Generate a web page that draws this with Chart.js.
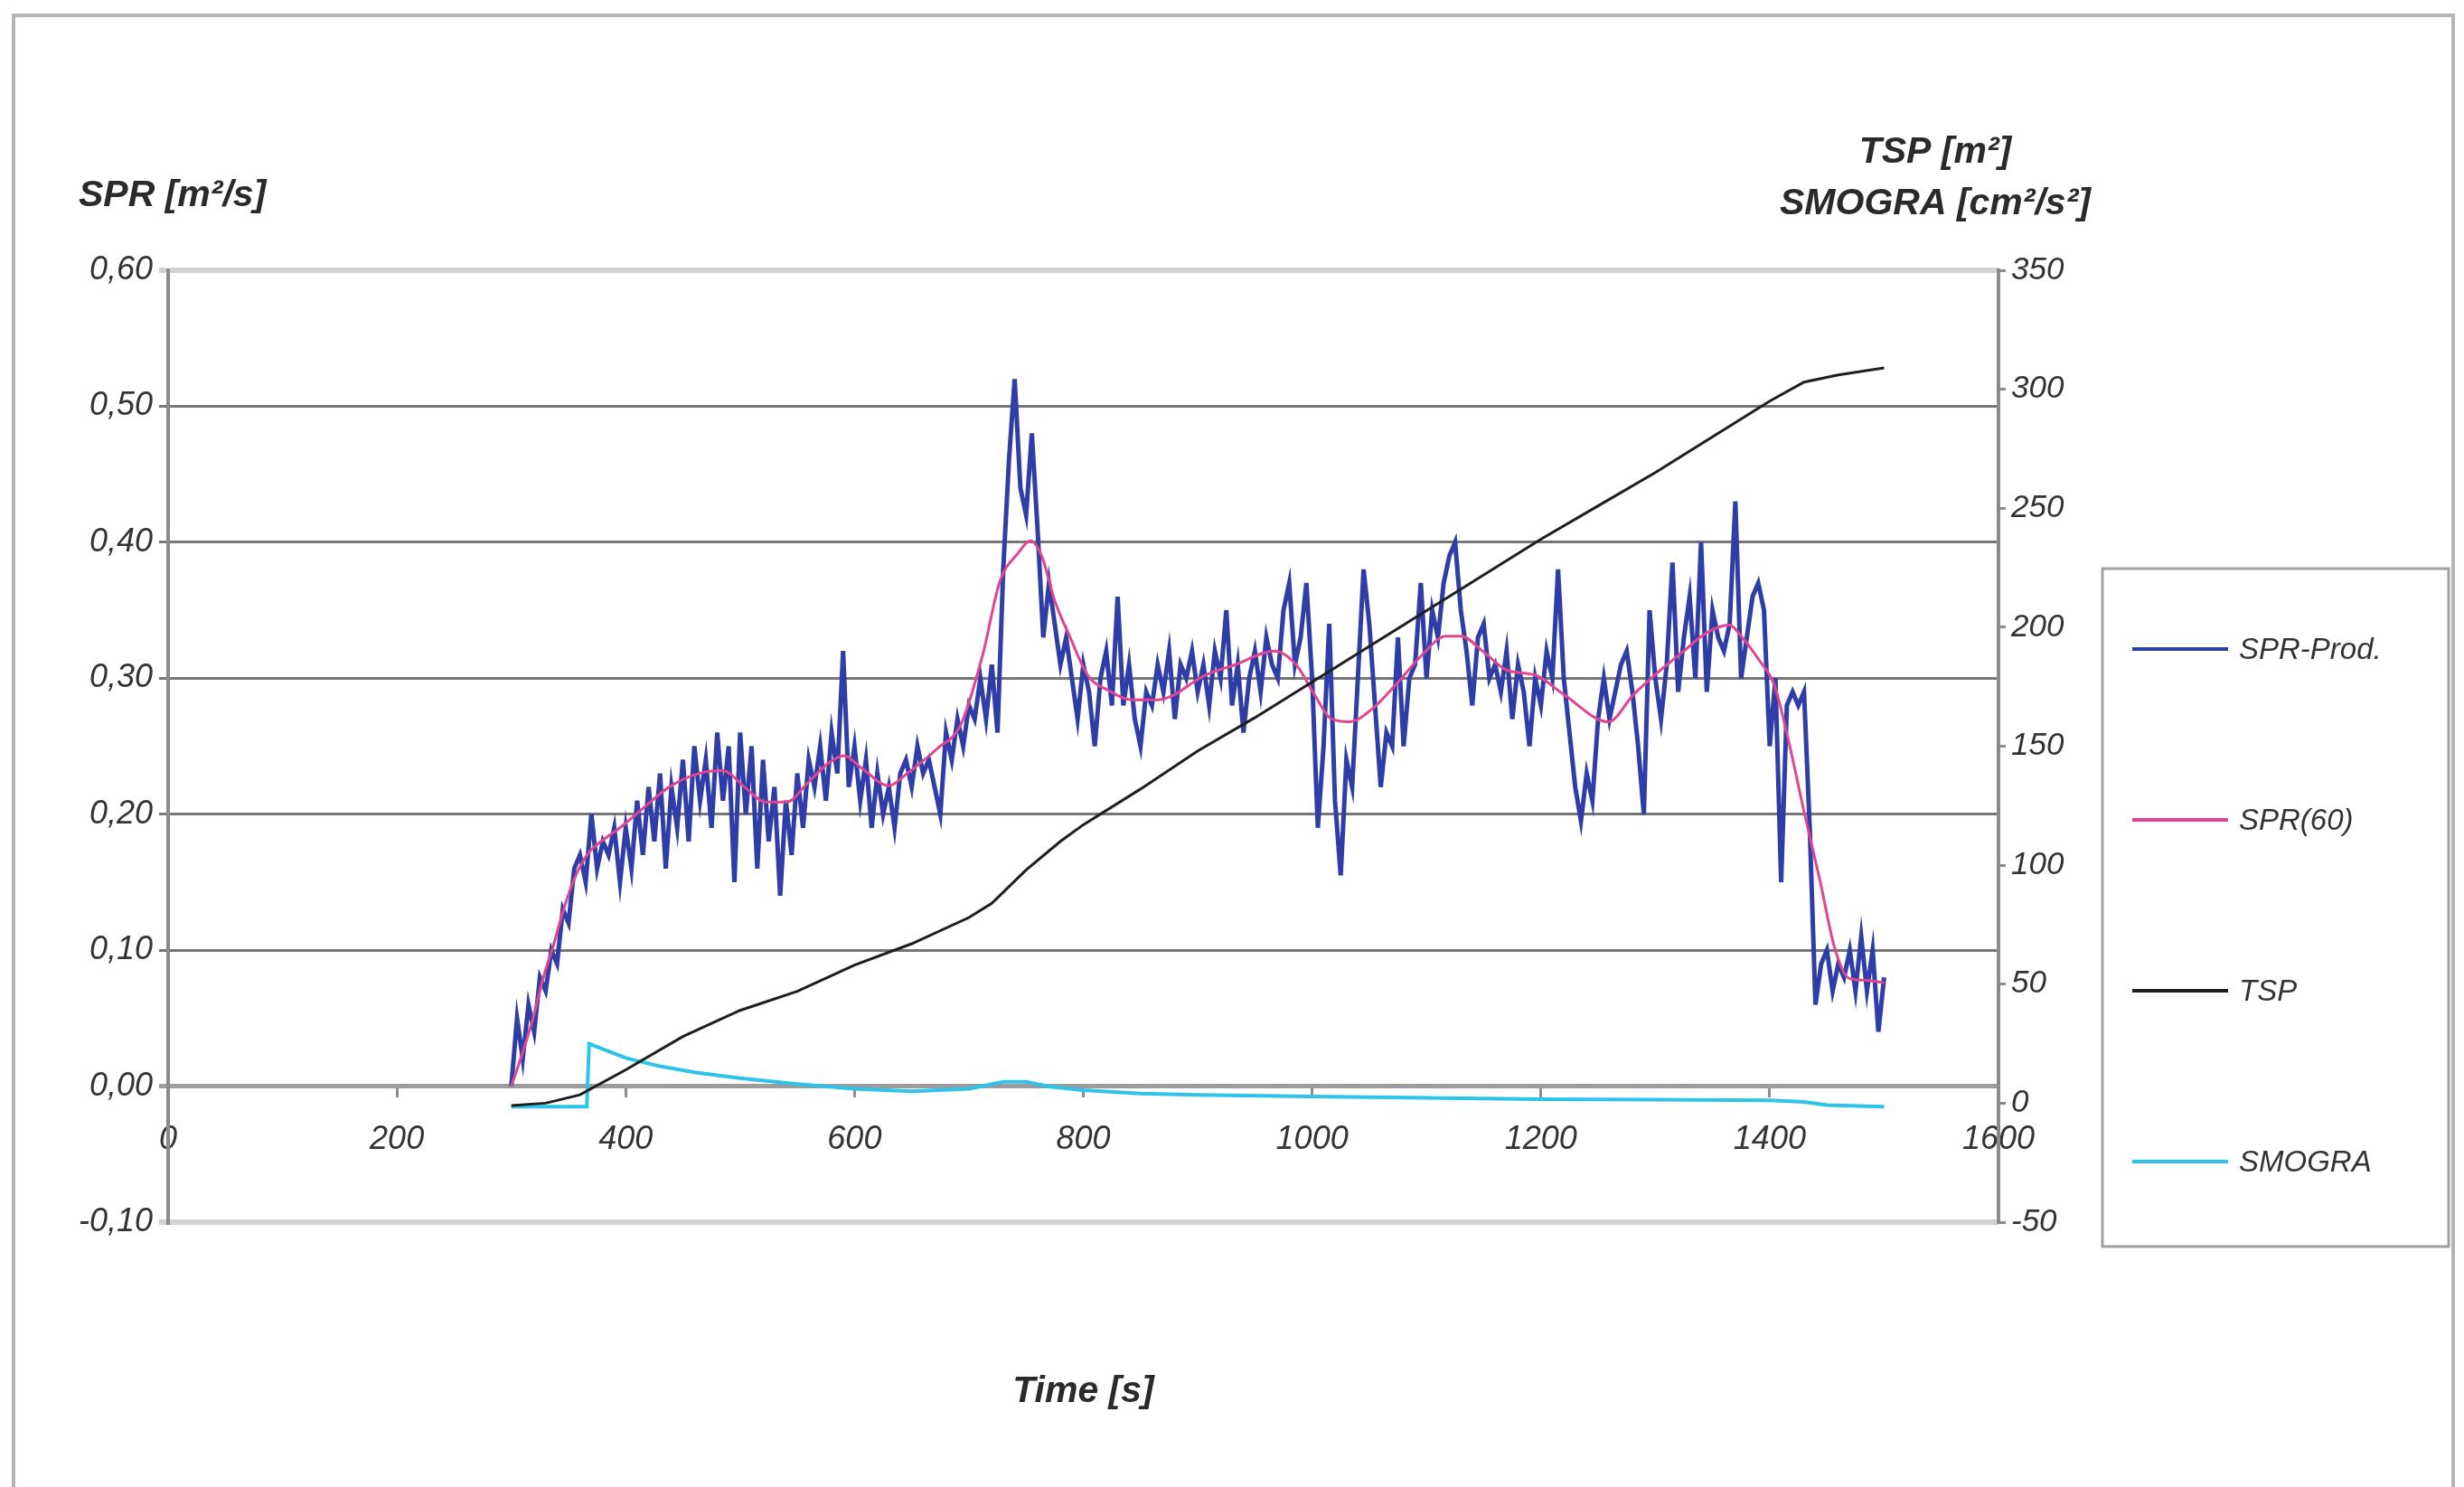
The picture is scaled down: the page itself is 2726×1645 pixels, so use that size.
<!DOCTYPE html>
<html>
<head>
<meta charset="utf-8">
<title>SPR / TSP / SMOGRA</title>
<script src="https://cdn.jsdelivr.net/npm/chart.js@4.4.1/dist/chart.umd.min.js"></script>
<style>
  html, body { margin: 0; padding: 0; background: #fff; }
  #wrap { width: 2726px; height: 1645px; position: relative; }
</style>
</head>
<body>
<div id="wrap"><canvas id="myChart"></canvas></div>
<script>
/**
 * Data
 */
// SPR-Prod., one reading every 5 s
var sprTime = [
  300,305,310,315,320,325,330,335,340,345,350,355,360,365,370,375,380,385,390,395,
  400,405,410,415,420,425,430,435,440,445,450,455,460,465,470,475,480,485,490,495,
  500,505,510,515,520,525,530,535,540,545,550,555,560,565,570,575,580,585,590,595,
  600,605,610,615,620,625,630,635,640,645,650,655,660,665,670,675,680,685,690,695,
  700,705,710,715,720,725,730,735,740,745,750,755,760,765,770,775,780,785,790,795,
  800,805,810,815,820,825,830,835,840,845,850,855,860,865,870,875,880,885,890,895,
  900,905,910,915,920,925,930,935,940,945,950,955,960,965,970,975,980,985,990,995,
  1000,1005,1010,1015,1020,1025,1030,1035,1040,1045,1050,1055,1060,1065,1070,1075,1080,1085,1090,1095,
  1100,1105,1110,1115,1120,1125,1130,1135,1140,1145,1150,1155,1160,1165,1170,1175,1180,1185,1190,1195,
  1200,1205,1210,1215,1220,1225,1230,1235,1240,1245,1250,1255,1260,1265,1270,1275,1280,1285,1290,1295,
  1300,1305,1310,1315,1320,1325,1330,1335,1340,1345,1350,1355,1360,1365,1370,1375,1380,1385,1390,1395,
  1400,1405,1410,1415,1420,1425,1430,1435,1440,1445,1450,1455,1460,1465,1470,1475,1480,1485,1490,1495,
  1500
];
var sprProd = [
  0.00,0.05,0.02,0.06,0.04,0.08,0.07,0.10,0.09,0.13,0.12,0.16,0.17,0.15,0.20,0.16,0.18,0.17,0.19,0.15,
  0.19,0.16,0.21,0.17,0.22,0.18,0.23,0.16,0.22,0.19,0.24,0.18,0.25,0.21,0.24,0.19,0.26,0.21,0.25,0.15,
  0.26,0.20,0.25,0.16,0.24,0.18,0.22,0.14,0.21,0.17,0.23,0.19,0.24,0.22,0.25,0.21,0.26,0.23,0.32,0.22,
  0.25,0.21,0.24,0.19,0.23,0.20,0.22,0.19,0.23,0.24,0.22,0.25,0.23,0.24,0.22,0.20,0.26,0.24,0.27,0.25,
  0.28,0.27,0.30,0.27,0.31,0.26,0.38,0.46,0.52,0.44,0.42,0.48,0.41,0.33,0.37,0.34,0.31,0.33,0.30,0.27,
  0.31,0.29,0.25,0.30,0.32,0.28,0.36,0.28,0.31,0.27,0.25,0.29,0.28,0.31,0.29,0.32,0.27,0.31,0.30,0.32,
  0.29,0.31,0.28,0.32,0.30,0.35,0.28,0.31,0.26,0.30,0.32,0.29,0.33,0.31,0.30,0.35,0.37,0.31,0.33,0.37,
  0.30,0.19,0.25,0.34,0.21,0.155,0.24,0.22,0.30,0.38,0.34,0.28,0.22,0.26,0.25,0.33,0.25,0.30,0.31,0.37,
  0.30,0.35,0.33,0.37,0.39,0.40,0.35,0.32,0.28,0.33,0.34,0.30,0.31,0.29,0.32,0.27,0.31,0.29,0.25,0.30,
  0.28,0.32,0.30,0.38,0.30,0.26,0.22,0.195,0.23,0.21,0.27,0.30,0.27,0.29,0.31,0.32,0.29,0.25,0.20,0.35,
  0.30,0.27,0.31,0.385,0.29,0.33,0.36,0.30,0.40,0.29,0.35,0.33,0.32,0.34,0.43,0.30,0.33,0.36,0.37,0.35,
  0.25,0.30,0.15,0.28,0.29,0.28,0.29,0.19,0.06,0.09,0.10,0.07,0.09,0.08,0.10,0.07,0.11,0.07,0.10,0.04,
  0.08
];

// SPR(60), running mean
var sprAvgTime = [300,310,319,328,337,345,353,361,369,385,398,412,438,464,485,504,522,541,559,578,
  591,606,630,646,672,693,712,727,743,754,764,775,788,804,822,843,864,880,896,906,
  933,967,986,1002,1017,1033,1052,1073,1096,1117,1130,1149,1170,1196,1220,1259,1281,1299,1325,1344,
  1365,1375,1391,1404,1417,1430,1444,1457,1470,1483,1500];
var sprAvg = [0,0.025,0.05,0.08,0.104,0.128,0.148,0.163,0.173,0.184,0.192,0.202,0.22,0.23,0.232,0.22,0.209,0.209,0.223,0.238,
  0.243,0.234,0.221,0.23,0.248,0.266,0.317,0.371,0.392,0.401,0.389,0.357,0.331,0.302,0.291,0.284,0.284,0.288,0.297,0.302,
  0.31,0.32,0.31,0.288,0.27,0.268,0.277,0.295,0.317,0.331,0.331,0.32,0.306,0.302,0.288,0.268,0.288,0.302,0.32,0.333,
  0.339,0.331,0.313,0.295,0.252,0.202,0.151,0.101,0.079,0.078,0.076];

// TSP [m2], right axis
var tspTime = [300,330,360,400,450,500,550,600,650,700,720,750,780,800,850,900,950,1000,1050,1100,1150,1200,1250,1300,1350,1400,1430,1460,1500];
var tsp = [-1,0,3.5,14,28,39,47,58,67,78,84,98,110,117,132,148,162,177,192,207,222,237,251,265,280,295,303,306,309];

// SMOGRA [cm2/s2], right axis
var smoTime = [300,366,368,400,430,460,500,550,600,650,700,730,750,770,800,850,900,1000,1100,1200,1300,1400,1430,1450,1500];
var smogra = [-1.5,-1.5,25,19,15.5,13,10.5,8,6,5,6,9,9,7,5.5,4,3.5,2.8,2.2,1.7,1.5,1.2,0.5,-0.8,-1.5];

// axis ranges and labels
var xTicks = { min: 0, max: 1600, step: 200 };
var leftTicks = { min: -0.1, max: 0.6, step: 0.1 };
var rightTicks = { min: -50, max: 350, step: 50 };
var seriesNames = ['SPR-Prod.', 'SPR(60)', 'TSP', 'SMOGRA'];
var titleLeft = 'SPR [m²/s]';
var titleRight1 = 'TSP [m²]';
var titleRight2 = 'SMOGRA [cm²/s²]';
var titleX = 'Time [s]';

var FONT = "'Liberation Sans', Arial, sans-serif";

function pts(xs, ys) {
  return xs.map((x, i) => ({ x: x, y: ys[i] }));
}

// frame, axis titles and the boxed legend, the Excel way
const decor = {
  id: 'decor',
  beforeDraw(chart) {
    const ctx = chart.ctx;
    ctx.save();
    ctx.fillStyle = '#fff';
    ctx.fillRect(0, 0, chart.width, chart.height);
    ctx.strokeStyle = '#b4b4b4';
    ctx.lineWidth = 4;
    ctx.strokeRect(15, 17, 2699, 1700);
    ctx.restore();
  },
  afterDraw(chart) {
    const ctx = chart.ctx;
    const a = chart.chartArea;
    ctx.save();
    ctx.fillStyle = '#2a2a2a';
    ctx.font = 'italic bold 41px ' + FONT;
    ctx.textBaseline = 'middle';
    ctx.textAlign = 'left';
    ctx.fillText(titleLeft, a.left - 99, a.top - 82);
    ctx.textAlign = 'center';
    ctx.fillText(titleRight1, a.right - 70, a.top - 130);
    ctx.fillText(titleRight2, a.right - 70, a.top - 73);
    ctx.fillText(titleX, (a.left + a.right) / 2, a.bottom + 188);

    // legend box
    const lx = a.right + 115, ly = 629, lw = 383, lh = 750;
    ctx.strokeStyle = '#a0a0a0';
    ctx.lineWidth = 3;
    ctx.strokeRect(lx, ly, lw, lh);
    ctx.font = 'italic 33px ' + FONT;
    ctx.textAlign = 'left';
    chart.data.datasets.forEach((ds, i) => {
      const y = 718 + i * 189;
      ctx.strokeStyle = ds.borderColor;
      ctx.lineWidth = 4;
      ctx.beginPath();
      ctx.moveTo(lx + 33, y);
      ctx.lineTo(lx + 139, y);
      ctx.stroke();
      ctx.fillStyle = '#333';
      ctx.fillText(ds.label, lx + 151, y + 2);
    });
    ctx.restore();
  }
};

function leftGridColor(c) {
  const v = c.tick ? c.tick.value : 0;
  if (Math.abs(v - leftTicks.max) < 1e-6 || Math.abs(v - leftTicks.min) < 1e-6) return '#d2d2d2';
  if (Math.abs(v) < 1e-6) return '#9c9c9c';
  return '#767676';
}
function leftGridWidth(c) {
  const v = c.tick ? c.tick.value : 0;
  if (Math.abs(v - leftTicks.max) < 1e-6 || Math.abs(v - leftTicks.min) < 1e-6) return 6;
  if (Math.abs(v) < 1e-6) return 5;
  return 3;
}
function commaLabel(v) {
  if (Math.abs(v) < 1e-9) v = 0;
  return v.toFixed(2).replace('.', ',');
}

const config = {
  type: 'line',
  data: {
    datasets: [
      {
        label: seriesNames[0],
        data: pts(sprTime, sprProd),
        borderColor: '#2f3ea6',
        borderWidth: 5,
        yAxisID: 'y',
        order: 3
      },
      {
        label: seriesNames[1],
        data: pts(sprAvgTime, sprAvg),
        borderColor: '#e2458f',
        borderWidth: 3,
        cubicInterpolationMode: 'monotone',
        yAxisID: 'y',
        order: 2
      },
      {
        label: seriesNames[2],
        data: pts(tspTime, tsp),
        borderColor: '#1e1e1e',
        borderWidth: 3,
        yAxisID: 'y1',
        order: 1
      },
      {
        label: seriesNames[3],
        data: pts(smoTime, smogra),
        borderColor: '#2ec3e8',
        borderWidth: 4,
        yAxisID: 'y1',
        order: 4
      }
    ]
  },
  options: {
    responsive: true,
    maintainAspectRatio: false,
    animation: false,
    elements: { point: { radius: 0 }, line: { tension: 0 } },
    layout: { padding: { left: 0, top: 299, right: 365, bottom: 293 } },
    plugins: {
      legend: { display: false },
      title: { display: false },
      tooltip: { enabled: false }
    },
    scales: {
      x: {
        type: 'linear',
        position: { y: 0 },
        min: xTicks.min,
        max: xTicks.max,
        grid: { drawOnChartArea: false, drawTicks: true, tickLength: 10, color: '#8c8c8c', lineWidth: 3 },
        border: { color: '#9c9c9c', width: 5 },
        ticks: {
          stepSize: xTicks.step,
          padding: 28,
          color: '#333',
          font: { family: FONT, size: 36, style: 'italic' },
          maxRotation: 0,
          callback: v => String(v)
        }
      },
      y: {
        position: 'left',
        min: leftTicks.min,
        max: leftTicks.max,
        afterFit: s => { s.width = 186; },
        grid: { color: leftGridColor, lineWidth: leftGridWidth, tickLength: 10 },
        border: { color: '#8a8a8a', width: 4 },
        ticks: {
          stepSize: leftTicks.step,
          padding: 7,
          color: '#333',
          font: { family: FONT, size: 36, style: 'italic' },
          callback: commaLabel
        }
      },
      y1: {
        position: 'right',
        min: rightTicks.min,
        max: rightTicks.max,
        afterFit: s => { s.width = 150; },
        grid: { drawOnChartArea: false, tickLength: 8, color: '#8a8a8a', lineWidth: 3 },
        border: { color: '#8a8a8a', width: 4 },
        ticks: {
          stepSize: rightTicks.step,
          padding: 6,
          color: '#333',
          font: { family: FONT, size: 35, style: 'italic' },
          callback: v => String(v)
        }
      }
    }
  },
  plugins: [decor]
};

document.addEventListener('DOMContentLoaded', (event) => {
  myChart = new Chart(document.getElementById('myChart'), config);
});
</script>
</body>
</html>
